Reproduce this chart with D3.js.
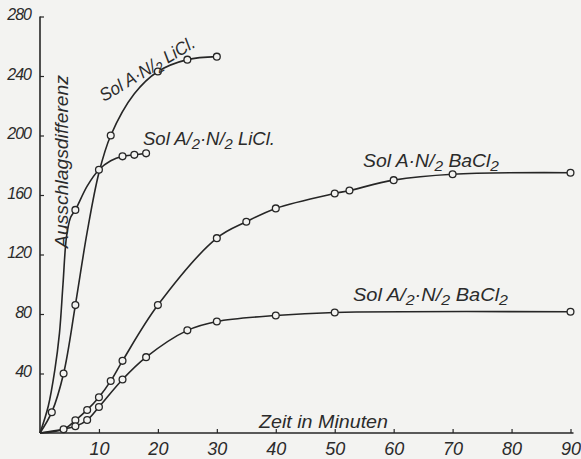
<!DOCTYPE html>
<html>
<head>
<meta charset="utf-8">
<script src="https://cdn.jsdelivr.net/npm/d3@7"></script>
<style>
  body { margin: 0; background: #f3f3f1; }
  svg { display: block; }
  text { font-family: "Liberation Sans", Arial, sans-serif; font-style: italic; fill: #2b2b2b; }
</style>
</head>
<body>
<div id="chart"></div>
<script>
// DATA
// x: Zeit in Minuten, y: Ausschlagsdifferenz
var xTicks = [10, 20, 30, 40, 50, 60, 70, 80, 90];
var yTicks = [40, 80, 120, 160, 200, 240, 280];

// Sol A . N/2 LiCl  - measured points (circles)
var liclA = [[2, 14], [4, 40], [6, 86], [12, 200], [20, 243], [25, 251], [30, 253]];
// drawn curve
var liclACurve = [[0, 0], [2, 14], [4, 40], [6, 86], [8, 135], [10, 175], [12, 200], [16, 228], [20, 243], [25, 251], [30, 253]];

// Sol A/2 . N/2 LiCl
var liclHalf = [[6, 150], [10, 177], [14, 186], [16, 187], [18, 188]];
var liclHalfCurve = [[0, 0], [1.4, 18], [2.5, 42], [3.3, 67], [3.9, 100], [4.5, 132], [5.2, 145], [6, 150], [8, 166], [10, 177], [12, 183], [14, 186], [16, 187], [18, 188]];

// Sol A . N/2 BaCl2
var baclA = [[4, 2.5], [6, 8.5], [8, 15.5], [10, 24], [12, 35], [14, 48.5], [20, 86], [30, 131], [35, 142], [40, 151], [50, 161], [52.5, 163], [60, 170], [70, 174], [90, 175]];
var baclACurve = [[0, 0]].concat(baclA);

// Sol A/2 . N/2 BaCl2
var baclHalf = [[6, 4.5], [8, 8.7], [10, 17.5], [14, 36], [18, 51], [25, 69], [30, 75], [40, 79], [50, 81], [90, 81.5]];
var baclHalfCurve = [[0, 0]].concat(baclHalf);

var w = 581;
var h = 459;
var ink = "#262626";

var svg = d3.select("#chart")
    .append("svg")
    .attr("width", w)
    .attr("height", h);

svg.append("rect")
    .attr("width", w)
    .attr("height", h)
    .attr("fill", "#f3f3f1");

var x = d3.scaleLinear().domain([0, 90]).range([40, 570.5]);
var y = d3.scaleLinear().domain([0, 280]).range([433, 16.5]);

// x axis, ticks point up into the plot
var xAxis = svg.append("g")
    .attr("transform", "translate(0," + y(0) + ")")
    .call(d3.axisBottom(x).tickValues(xTicks).tickSize(-4).tickSizeOuter(0).tickFormat(d3.format("d")));
xAxis.select(".domain").attr("d", "M" + x(0) + ",0H" + (x(90) + 3)).attr("stroke", ink).attr("stroke-width", 1.6);
xAxis.selectAll(".tick line").attr("stroke", ink).attr("stroke-width", 1.2);
xAxis.selectAll(".tick text")
    .attr("y", 16)
    .attr("dy", "0.32em")
    .attr("font-size", 18)
    .attr("fill", ink);

// y axis, ticks point right
var yAxis = svg.append("g")
    .attr("transform", "translate(" + x(0) + ",0)")
    .call(d3.axisLeft(y).tickValues(yTicks).tickSize(-4).tickSizeOuter(0));
yAxis.select(".domain").attr("d", "M0," + y(0) + "V" + y(280)).attr("stroke", ink).attr("stroke-width", 1.6);
yAxis.selectAll(".tick line").attr("stroke", ink).attr("stroke-width", 1.2);
yAxis.selectAll(".tick text")
    .attr("x", -9)
    .attr("dy", "0.2em")
    .attr("font-size", 16)
    .attr("letter-spacing", -1)
    .attr("fill", ink);

// curves
var line = d3.line()
    .x(function (d) { return x(d[0]); })
    .y(function (d) { return y(d[1]); })
    .curve(d3.curveCatmullRom.alpha(0.5));

var curves = [liclACurve, liclHalfCurve, baclACurve, baclHalfCurve];
svg.selectAll(".curve")
    .data(curves)
    .enter()
    .append("path")
    .attr("class", "curve")
    .attr("d", line)
    .attr("fill", "none")
    .attr("stroke", ink)
    .attr("stroke-width", 1.6);

// measured points
var points = [].concat(liclA, liclHalf, baclA, baclHalf);
svg.selectAll(".mark")
    .data(points)
    .enter()
    .append("circle")
    .attr("class", "mark")
    .attr("cx", function (d) { return x(d[0]); })
    .attr("cy", function (d) { return y(d[1]); })
    .attr("r", 3.4)
    .attr("fill", "#f3f3f1")
    .attr("stroke", ink)
    .attr("stroke-width", 1.3);

// label helper: parts are [text, isSubscript]
function label(parts, tx, ty, rot, size, len) {
    var t = svg.append("text")
        .attr("transform", "translate(" + tx + "," + ty + ")rotate(" + rot + ")")
        .attr("font-size", size);
    var down = false;
    parts.forEach(function (p) {
        var s = t.append("tspan").text(p[0]);
        if (p[1] && !down) { s.attr("dy", 4).attr("font-size", size * 0.8); down = true; }
        else if (!p[1] && down) { s.attr("dy", -4); down = false; }
    });
    if (len) t.attr("textLength", len).attr("lengthAdjust", "spacingAndGlyphs");
    return t;
}

label([["Sol A·N/", 0], ["2", 1], [" LiCl.", 0]], 104, 102, -31, 18, 108);
label([["Sol A/", 0], ["2", 1], ["·N/", 0], ["2", 1], [" LiCl.", 0]], 143, 145, 0, 18, 132);
label([["Sol A·N/", 0], ["2", 1], [" BaCl", 0], ["2", 1]], 363, 167, 0, 18, 136);
label([["Sol A/", 0], ["2", 1], ["·N/", 0], ["2", 1], [" BaCl", 0], ["2", 1]], 353, 301, 0, 18, 155);

svg.append("text")
    .attr("x", 259)
    .attr("y", 428)
    .attr("font-size", 19)
    .attr("textLength", 129)
    .attr("lengthAdjust", "spacingAndGlyphs")
    .text("Zeit in Minuten");

svg.append("text")
    .attr("transform", "translate(68,248)rotate(-90)")
    .attr("font-size", 18)
    .attr("textLength", 173)
    .attr("lengthAdjust", "spacingAndGlyphs")
    .text("Ausschlagsdifferenz");
</script>
</body>
</html>
